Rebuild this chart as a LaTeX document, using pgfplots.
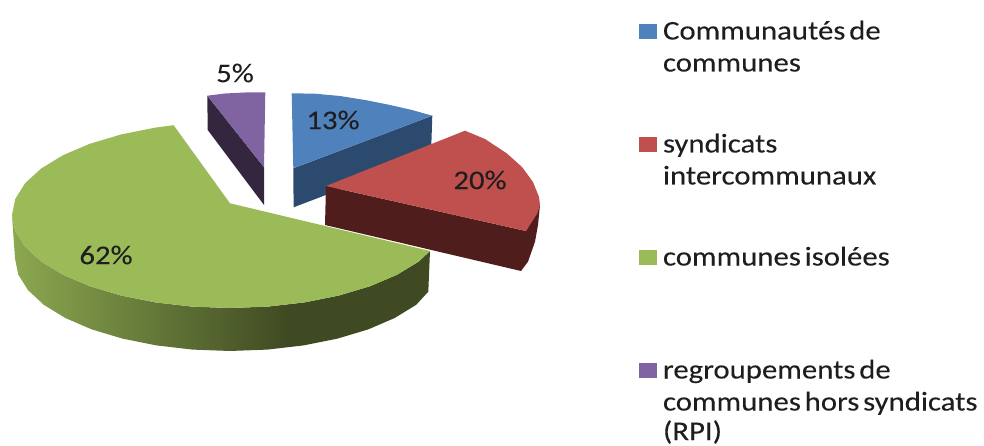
\documentclass[border=0pt]{standalone}
\usepackage{pgfplots}
\usepackage{fontspec}
\pgfplotsset{compat=1.18}
\setmainfont[WordSpace=0.55,FakeStretch=1.14,FakeBold=0.1]{Carlito}
\definecolor{bt}{HTML}{4F81BD}\definecolor{bs}{HTML}{2C4A6E}
\definecolor{rt}{HTML}{C0504D}\definecolor{rs}{HTML}{4F1E1C}
\definecolor{gt}{HTML}{9BBB59}\definecolor{gsl}{HTML}{8CA850}\definecolor{gsd}{HTML}{3F4A22}
\definecolor{pt}{HTML}{8064A2}\definecolor{ps}{HTML}{35263F}
\definecolor{tx}{HTML}{1E1E1E}
\pgfdeclarehorizontalshading{greenside}{100bp}{color(0bp)=(gsl); color(25bp)=(gsl); color(58bp)=(gsd); color(100bp)=(gsd)}
\newcommand{\lab}[1]{\fontsize{27}{32}\selectfont\color{tx}#1}
\tikzset{lt/.style={anchor=base west, inner sep=0pt, outer sep=0pt}, dl/.style={anchor=center, inner sep=0pt, outer sep=0pt}}
\begin{document}
\begin{tikzpicture}
\path[use as bounding box] (0,0) rectangle (984pt,446pt);
\begin{axis}[
  at={(0,0)}, anchor=south west,
  scale only axis, width=984pt, height=446pt,
  xmin=0, xmax=984, ymin=0, ymax=446, y dir=reverse,
  axis lines=none, clip=false,
]
% purple slice
\addplot[draw=none, fill=ps] coordinates {(207.3,95.7)(207.7,130)(264,205)(264,167.3)} --cycle;
\addplot[draw=none, fill=pt] coordinates {(207.3,95.7)(225,93.5)(245,92.5)(265.3,92.3)(264,167.3)} --cycle;
% blue slice
\addplot[draw=none, fill=bs] coordinates {(293.3,168.3)(293.6,207.3)(431,155)(432.3,115.7)} --cycle;
\addplot[draw=none, fill=bt] coordinates {(291.7,93.3)(315,93.7)(340,96)(365,100)(390,105)(412,110)(432.3,115.7)(293.3,168.3)} --cycle;
% red slice
\addplot[draw=none, fill=rs] coordinates {(326,186)(325,225)(521,271)(528,261.7)(535,241.7)(538,225)(540,205)(526,231)} --cycle;
\addplot[draw=none, fill=rt] coordinates {(326,186)(465,130.7)(485,139)(506.7,153.3)(522,167)(533,182)(539,197)(540,205)(537,214)(526,231)} --cycle;
% green slice
\addplot[draw=none, shade, shading=greenside] coordinates {
 (430,251)(418.8,261.5)(397,274.8)(370.2,286.2)(339,295.5)(304.6,302.4)(267.9,306.6)(230,308)
 (192.1,306.6)(155.4,302.4)(121,295.5)(89.8,286.2)(63,274.8)(41.2,261.5)(25.1,246.8)(15.3,231.1)(12,215)
 (15,258.5)(18.3,274.6)(28,290.1)(43.8,304.8)(65.3,318)(91.8,329.4)(122.5,338.6)(156.5,345.4)(192.6,349.6)
 (230,351)(267.4,349.6)(303.5,345.4)(337.5,338.6)(368.2,329.4)(394.7,318)(416.2,304.8)(428.3,291.7)} --cycle;
\addplot[draw=none, fill=gt] coordinates {
 (230,203.3)(430,251)(418.8,261.5)(397,274.8)(370.2,286.2)(339,295.5)(304.6,302.4)(267.9,306.6)(230,308)
 (192.1,306.6)(155.4,302.4)(121,295.5)(89.8,286.2)(63,274.8)(41.2,261.5)(25.1,246.8)(15.3,231.1)(12,215)
 (15.3,198.9)(25.1,183.2)(41.2,168.5)(63,155.2)(89.8,143.8)(121,134.5)(155.4,127.6)(173.6,125.2)} --cycle;
% legend keys
\addplot[draw=none, fill=bt] coordinates {(639.3,24)(656.7,24)(656.7,39.3)(639.3,39.3)} --cycle;
\addplot[draw=none, fill=rt] coordinates {(639.3,137)(656.7,137)(656.7,152.3)(639.3,152.3)} --cycle;
\addplot[draw=none, fill=gt] coordinates {(639.3,250)(656.7,250)(656.7,265.3)(639.3,265.3)} --cycle;
\addplot[draw=none, fill=pt] coordinates {(639.3,362.7)(656.7,362.7)(656.7,378.3)(639.3,378.3)} --cycle;
% data labels
\node[dl] at (axis cs:333,120) {\lab{13\%}};
\node[dl] at (axis cs:480,180) {\lab{20\%}};
\node[dl] at (axis cs:235,73) {\lab{5\%}};
\node[dl] at (axis cs:106,255) {\lab{62\%}};
% legend text
\node[lt] at (axis cs:663,39.5) {\lab{Communautés de}};
\node[lt] at (axis cs:663,71.5) {\lab{communes}};
\node[lt] at (axis cs:663,152.5) {\lab{syndicats}};
\node[lt] at (axis cs:663,184.5) {\lab{intercommunaux}};
\node[lt] at (axis cs:663,265.5) {\lab{communes isolées}};
\node[lt] at (axis cs:663,378.5) {\lab{regroupements de}};
\node[lt] at (axis cs:663,410.5) {\lab{communes hors syndicats}};
\node[lt] at (axis cs:663,440) {\lab{(RPI)}};
\end{axis}
\end{tikzpicture}
\end{document}
